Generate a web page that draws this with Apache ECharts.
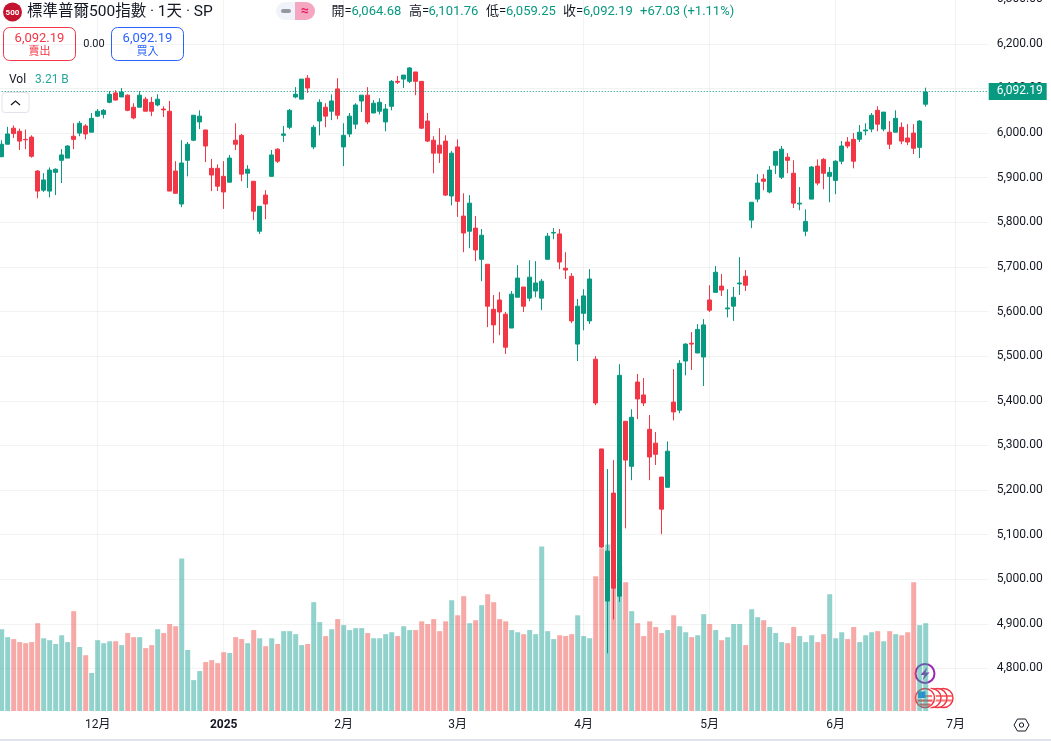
<!DOCTYPE html>
<html><head><meta charset="utf-8">
<style>html,body{margin:0;padding:0;background:#fff;overflow:hidden}#c{width:1051px;height:741px}</style>
<script src="https://cdn.jsdelivr.net/npm/echarts@6/dist/echarts.min.js"></script>
</head><body><div id="c"></div>
<script>
const opens=[5947,5975,6011,6004,5986,5991,5915,5872,5870,5912,
5939,5944,5993,6000,6016,6002,6038,6042,6069,6090,
6081,6085,6058,6058,6076,6069,6063,6054,6049,5915,
5841,5939,5984,6025,6007,5921,5921,5903,5890,5984,
5995,5910,5892,5780,5861,5903,5964,5995,6013,6081,
6076,6123,5969,6027,6058,6049,6099,5969,5998,6020,
6072,6085,6045,6049,6025,6060,6116,6121,6116,6137,
6116,6027,5984,5973,5982,5859,5969,5814,5780,5787,
5717,5706,5605,5626,5594,5563,5632,5655,5630,5646,
5630,5717,5776,5774,5697,5679,5527,5596,5579,5493,
5292,4951,5193,4962,5354,5253,5442,5413,5336,5305,
5229,5206,5397,5379,5489,5529,5507,5498,5626,5643,
5657,5606,5612,5662,5679,5805,5852,5897,5868,5928,
5901,5946,5910,5841,5780,5852,5926,5941,5903,5894,
5937,5980,5986,5986,6005,6009,6051,6009,6002,6002,
6013,5989,6000,5968,6064.68];
const closes=[5975,5998,5999,5982,5985,5948,5870,5895,5917,5919,
5951,5971,5986,6022,5998,6033,6049,6051,6087,6074,
6092,6051,6034,6085,6049,6049,6076,6052,5870,5865,
5933,5975,6040,6038,5971,5906,5881,5868,5944,5975,
5908,5919,5825,5836,5841,5951,5937,5998,6051,6087,
6121,6101,6013,6069,6038,6072,6040,5995,6038,6063,
6085,6025,6067,6069,6054,6116,6114,6130,6146,6116,
6011,5982,5955,5955,5861,5955,5847,5776,5843,5738,
5771,5612,5570,5599,5520,5639,5675,5612,5677,5664,
5668,5769,5777,5711,5693,5579,5612,5635,5673,5395,
5072,5063,4980,5457,5267,5363,5404,5395,5274,5280,
5157,5287,5375,5484,5527,5527,5560,5570,5603,5688,
5648,5608,5632,5664,5659,5845,5888,5892,5917,5959,
5964,5939,5843,5843,5802,5924,5888,5910,5912,5937,
5971,5971,5937,6002,6007,6040,6020,6047,5975,6033,
5982,5980,5966,6027,6092.19];
const lows=[5946,5975,5989,5962,5964,5945,5854,5868,5856,5861,
5888,5944,5964,5993,5986,6002,6036,6033,6067,6073,
6081,6049,6031,6058,6049,6038,6060,6036,5870,5865,
5834,5903,5982,6009,5935,5870,5870,5830,5890,5962,
5892,5877,5805,5774,5807,5903,5933,5980,6009,6078,
6076,6090,5964,5995,6013,6029,6031,5926,5991,6009,
6047,6020,6045,6042,6004,6051,6110,6101,6112,6085,
6009,5980,5910,5933,5859,5838,5812,5733,5742,5713,
5668,5565,5529,5547,5505,5563,5632,5599,5623,5632,
5603,5717,5762,5695,5673,5574,5489,5558,5572,5390,
5070,4834,4910,4949,5114,5222,5359,5388,5222,5256,
5101,5206,5356,5372,5457,5469,5507,5433,5599,5643,
5635,5587,5579,5637,5646,5787,5845,5872,5865,5908,
5897,5910,5832,5827,5769,5852,5883,5874,5845,5863,
5930,5966,5921,5980,5995,6002,6004,6004,5964,6002,
5975,5973,5953,5944,6059.25];
const highs=[5984,6014,6017,6010,6008,5995,5917,5910,5923,5921,
5964,5973,6022,6027,6020,6045,6054,6054,6094,6096,
6101,6087,6067,6094,6081,6081,6087,6060,6072,5937,
5984,5980,6040,6051,6007,5942,5930,5937,5951,6022,
5998,5928,5892,5836,5872,5962,5966,6016,6054,6103,
6121,6130,6018,6076,6067,6087,6123,6022,6045,6067,
6085,6103,6074,6078,6065,6119,6128,6130,6148,6137,
6116,6045,5993,6011,5995,5960,5986,5865,5861,5814,
5785,5706,5637,5644,5599,5646,5704,5655,5715,5713,
5673,5776,5787,5785,5733,5686,5628,5650,5695,5500,
5292,5247,5267,5482,5354,5381,5460,5451,5368,5330,
5229,5309,5471,5491,5529,5554,5572,5583,5659,5702,
5684,5650,5655,5722,5693,5845,5908,5908,5926,5959,
5971,5955,5939,5879,5829,5926,5941,5944,5924,5939,
5982,5991,6000,6018,6022,6045,6060,6047,6027,6051,
6024,6020,6020,6029,6101.76];
const volumes=[2.99,2.70,2.63,2.52,2.48,2.52,3.21,2.66,2.59,2.45,
2.77,2.52,3.65,2.34,2.04,1.39,2.59,2.48,2.55,2.55,
2.41,2.85,2.70,2.70,2.30,2.41,2.99,2.85,3.18,3.10,
5.58,2.23,1.13,1.46,1.79,1.86,1.75,2.15,2.12,2.70,
2.63,2.48,2.96,2.66,2.37,2.66,2.45,2.92,2.92,2.81,
2.41,2.45,3.98,3.25,2.74,2.99,3.36,3.14,2.96,3.03,
3.03,2.85,2.66,2.66,2.81,2.88,2.74,3.10,2.96,2.96,
3.28,3.18,3.36,2.92,3.28,4.05,3.50,4.20,3.21,3.32,
3.87,4.27,3.98,3.36,3.28,2.96,2.88,2.81,2.96,2.81,
6.02,2.92,2.63,2.77,2.74,2.81,3.50,2.74,2.66,4.93,
5.95,6.09,5.10,5.30,4.71,3.65,3.21,2.74,3.28,3.07,
2.85,2.96,3.50,3.10,2.88,2.70,2.77,3.54,3.18,2.96,
2.59,2.70,3.18,3.18,2.41,3.72,3.43,3.32,3.07,2.85,
2.52,2.48,3.07,2.74,2.52,2.77,2.52,2.81,4.27,2.66,
2.88,2.63,3.07,2.52,2.77,2.88,2.92,2.55,2.92,2.81,
2.77,2.88,4.71,3.14,3.21];
const tickIndex=[16,37,57,76,97,118,139,159];
const tickLabels=['12月','2025','2月','3月','4月','5月','6月','7月'];
const slotCount=165;
const lastClose=6092.19, lastVolume=3.21, closeLineLevel=6093.3;

const categories=Array.from({length:slotCount},(_,i)=>String(i));
const GREEN='#089981',RED='#F23645',VG='rgba(38,166,154,0.5)',VR='rgba(239,83,80,0.5)',TEAL='#26a69a';
const GRID='rgba(42,46,57,0.06)',VLINE='rgba(42,46,57,0.06)',INK='#131722';
const FF='Roboto,"Noto Sans CJK TC",sans-serif';
const candle=opens.map((o,i)=>[o,closes[i],lows[i],highs[i]]);
const vols=volumes.map((v,i)=>({value:v,itemStyle:{color:closes[i]>=opens[i]?VG:VR}}));
const fmt=n=>n.toLocaleString('en-US',{minimumFractionDigits:2,maximumFractionDigits:2});
const isTick=i=>tickIndex.includes(i);

function T(x,y,text,fill,size,extra){return Object.assign({type:'text',x,y,style:Object.assign({text,fill,fontSize:size,fontFamily:FF,verticalAlign:'middle',align:'left'},extra||{})},{})}
function R(x,y,w,h,fill,stroke,r){return {type:'rect',shape:{x,y,width:w,height:h,r:r||0},style:{fill:fill,stroke:stroke||null,lineWidth:stroke?1:0}}}

const flag=(cx,cy)=>[
 {type:'circle',shape:{cx,cy,r:9.5},style:{fill:'#fff',stroke:RED,lineWidth:1.5}},
 R(cx+2,cy-3,6.5,2,'#F77'),R(cx+2,cy+1.5,6.5,2,'#F77')];
const graphics=[
 R(0,0,320,22,'#fff'),R(0,22,186,41,'#fff'),
 {type:'circle',shape:{cx:12.5,cy:12,r:9.5},style:{fill:'#C4122F'}},
 T(12.5,12.5,'500','#fff',8,{align:'center',fontWeight:'bold'}),
 T(27,12,'標準普爾500指數 · 1天 · SP',INK,15.5),
 {type:'rect',shape:{x:276,y:2,width:20,height:18,r:[9,0,0,9]},style:{fill:'#F0F3FA'}},
 {type:'rect',shape:{x:295,y:2,width:20,height:18,r:[0,9,9,0]},style:{fill:'#F5A6C0'}},
 {type:'rect',shape:{x:281,y:9,width:10,height:4,r:2},style:{fill:'#9598A1'}},
 T(305,11,'≈','#E91E63',14,{align:'center',fontWeight:'bold'}),
 T(331.5,12,'開=',INK,13),T(351.5,12,'6,064.68',GREEN,13),
 T(409,12,'高=',INK,13),T(428.5,12,'6,101.76',GREEN,13),
 T(486,12,'低=',INK,13),T(506,12,'6,059.25',GREEN,13),
 T(563,12,'收=',INK,13),T(583,12,'6,092.19',GREEN,13),
 T(640,12,'+67.03',GREEN,13),T(683,12,'(+1.11%)',GREEN,13),
 R(3.5,27.5,72,33,'#fff',RED,6),
 T(39.5,38.5,'6,092.19',RED,13,{align:'center'}),T(39.5,52,'賣出',RED,11,{align:'center'}),
 T(94,44.5,'0.00',INK,11,{align:'center'}),
 R(111.5,27.5,72,33,'#fff','#2962FF',6),
 T(147.5,38.5,'6,092.19','#2962FF',13,{align:'center'}),T(147.5,52,'買入','#2962FF',11,{align:'center'}),
 T(9,80,'Vol',INK,12),T(35,80,'3.21 B',TEAL,12),
 R(2,92.5,27,20,'#fff','#E0E3EB',3),
 {type:'polyline',shape:{points:[[11,105],[15.5,101],[20,105]]},style:{stroke:INK,lineWidth:1.3,fill:null}},
 R(0,739,1051,2,'#E0E3EB'),
 {type:'polygon',shape:{points:[[1014,725],[1017.5,719],[1025.5,719],[1029,725],[1025.5,731],[1017.5,731]]},style:{fill:'#fff',stroke:INK,lineWidth:1}},
 {type:'circle',shape:{cx:1021.5,cy:725,r:2.2},style:{fill:'#fff',stroke:INK,lineWidth:1}},
 {type:'circle',shape:{cx:925,cy:673.5,r:11.5},style:{fill:'#fff'}},
 {type:'circle',shape:{cx:925,cy:673.5,r:9.5},style:{fill:'#fff',stroke:'#9C27B0',lineWidth:2}},
 {type:'polygon',shape:{points:[[927.5,667],[920.5,675],[924.5,675],[922.5,680.5],[929.5,672.5],[925.5,672.5]]},style:{fill:'#9C27B0'}},
 ...flag(943.5,698),...flag(937.5,698),...flag(931.5,698),
 {type:'circle',shape:{cx:925,cy:698,r:11},style:{fill:'#fff'}},
 {type:'circle',shape:{cx:925,cy:698,r:9.5},style:{fill:'#fff',stroke:RED,lineWidth:1.5}},
 R(918,695,14,2.2,'#F77'),R(917.5,699.5,15,2.2,'#F55B5B'),R(919.5,703.5,11,2.2,'#F55B5B'),
 R(918,691.5,7.5,6.5,'#2E86E8')
].map(g=>Object.assign({silent:true},g));

const chart=echarts.init(document.getElementById('c'),null,{renderer:'canvas'});
chart.setOption({
 animation:false,backgroundColor:'#fff',
 textStyle:{fontFamily:FF},
 grid:[
  {left:-1.3,top:-0.75,width:990,height:713.8,outerBoundsMode:'none',containLabel:false},
  {left:-1.3,top:0,width:990,height:711,outerBoundsMode:'none',containLabel:false}
 ],
 xAxis:[
  {type:'category',gridIndex:0,data:categories,axisLine:{show:false},axisTick:{show:false},axisLabel:{show:false},splitLine:{show:false}},
  {type:'category',gridIndex:1,data:categories,axisLine:{show:false},axisTick:{show:false},
   axisLabel:{show:true,interval:i=>isTick(i),margin:8,color:INK,fontSize:12,fontFamily:FF,
    formatter:v=>{const l=tickLabels[tickIndex.indexOf(+v)];return l==='2025'?'{b|2025}':l;},
    rich:{b:{fontWeight:'bold',fontSize:12,color:INK,fontFamily:FF}}},
   splitLine:{show:true,interval:i=>isTick(i),alignWithLabel:true,lineStyle:{color:VLINE,width:1}}}
 ],
 yAxis:[
  {type:'value',gridIndex:0,position:'right',min:4700,max:6300,interval:100,scale:true,
   axisLine:{show:false},axisTick:{show:false},
   axisLabel:{margin:8,color:INK,fontSize:12,fontFamily:FF,showMinLabel:false,formatter:v=>fmt(v)},
   splitLine:{show:true,showMinLine:false,lineStyle:{color:GRID,width:1}}},
  {type:'value',gridIndex:1,position:'left',min:0,max:26,show:false,splitLine:{show:false}}
 ],
 series:[
  {type:'bar',name:'Vol',xAxisIndex:1,yAxisIndex:1,data:vols,barWidth:5,z:1,silent:true,
   markLine:{silent:true,symbol:'none',animation:false,z:10,data:[{yAxis:lastVolume}],lineStyle:{opacity:0},
    label:{show:true,position:'end',distance:0,formatter:()=>lastVolume+' B',color:'#fff',backgroundColor:TEAL,
     padding:[3,5,2,8],fontSize:12,fontFamily:FF,lineHeight:12}}},
  {type:'candlestick',name:'S&P 500',xAxisIndex:0,yAxisIndex:0,data:candle,barWidth:4,z:2,silent:true,
   itemStyle:{color:GREEN,color0:RED,borderColor:GREEN,borderColor0:RED,borderWidth:1},
   markLine:{silent:true,symbol:'none',animation:false,z:10,data:[{yAxis:closeLineLevel}],
    lineStyle:{color:GREEN,type:[1,2],width:1},
    label:{show:true,position:'end',distance:0,formatter:()=>fmt(lastClose),color:'#fff',backgroundColor:GREEN,
     padding:[3,4,2,8],fontSize:12,fontFamily:FF,lineHeight:12}}}
 ],
 graphic:graphics
});
</script></body></html>
